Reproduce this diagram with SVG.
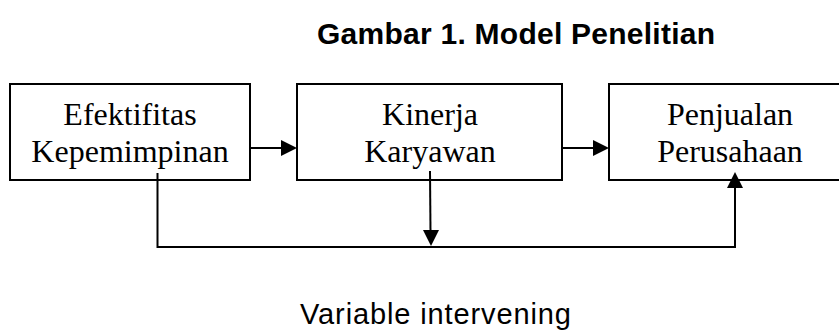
<svg xmlns="http://www.w3.org/2000/svg" width="839" height="330" viewBox="0 0 839 330">
<defs>
<style>
.box{fill:#fff;stroke:#000;stroke-width:2}
.lbl{font-family:"Liberation Serif","Times New Roman",serif;font-size:32px;fill:#000;text-anchor:middle}
.ln{fill:none;stroke:#000;stroke-width:2}
.hd{fill:#000;stroke:none}
</style>
</defs>
<rect width="839" height="330" fill="#fff"/>
<text x="516" y="44" font-family="Liberation Sans, Arial, sans-serif" font-size="30" font-weight="bold" text-anchor="middle" textLength="398" lengthAdjust="spacing">Gambar 1. Model Penelitian</text>
<g id="n1">
<rect class="box" x="10" y="84" width="240" height="96"/>
<text class="lbl" x="130" y="125">Efektifitas</text>
<text class="lbl" x="130" y="162">Kepemimpinan</text>
</g>
<g id="n2">
<rect class="box" x="297" y="84" width="265" height="96"/>
<text class="lbl" x="430" y="125">Kinerja</text>
<text class="lbl" x="430" y="162">Karyawan</text>
</g>
<g id="n3">
<rect class="box" x="609" y="84" width="242" height="96"/>
<text class="lbl" x="730" y="125">Penjualan</text>
<text class="lbl" x="730" y="162">Perusahaan</text>
</g>
<g id="connectors">
<line class="ln" x1="250" y1="148" x2="283" y2="148"/>
<polygon class="hd" points="281,140 297,148 281,156"/>
<line class="ln" x1="562" y1="148" x2="595" y2="148"/>
<polygon class="hd" points="593,140 609,148 593,156"/>
<polyline class="ln" points="157.5,173 157.5,247 735,247 735,186"/>
<polygon class="hd" points="727,188 735,172 743,188"/>
<line class="ln" x1="430" y1="171" x2="430.5" y2="232"/>
<polygon class="hd" points="423,230 431,246 439,230"/>
</g>
<text x="300" y="324" font-family="Liberation Sans, Arial, sans-serif" font-size="29" textLength="271" lengthAdjust="spacing">Variable intervening</text>
</svg>
